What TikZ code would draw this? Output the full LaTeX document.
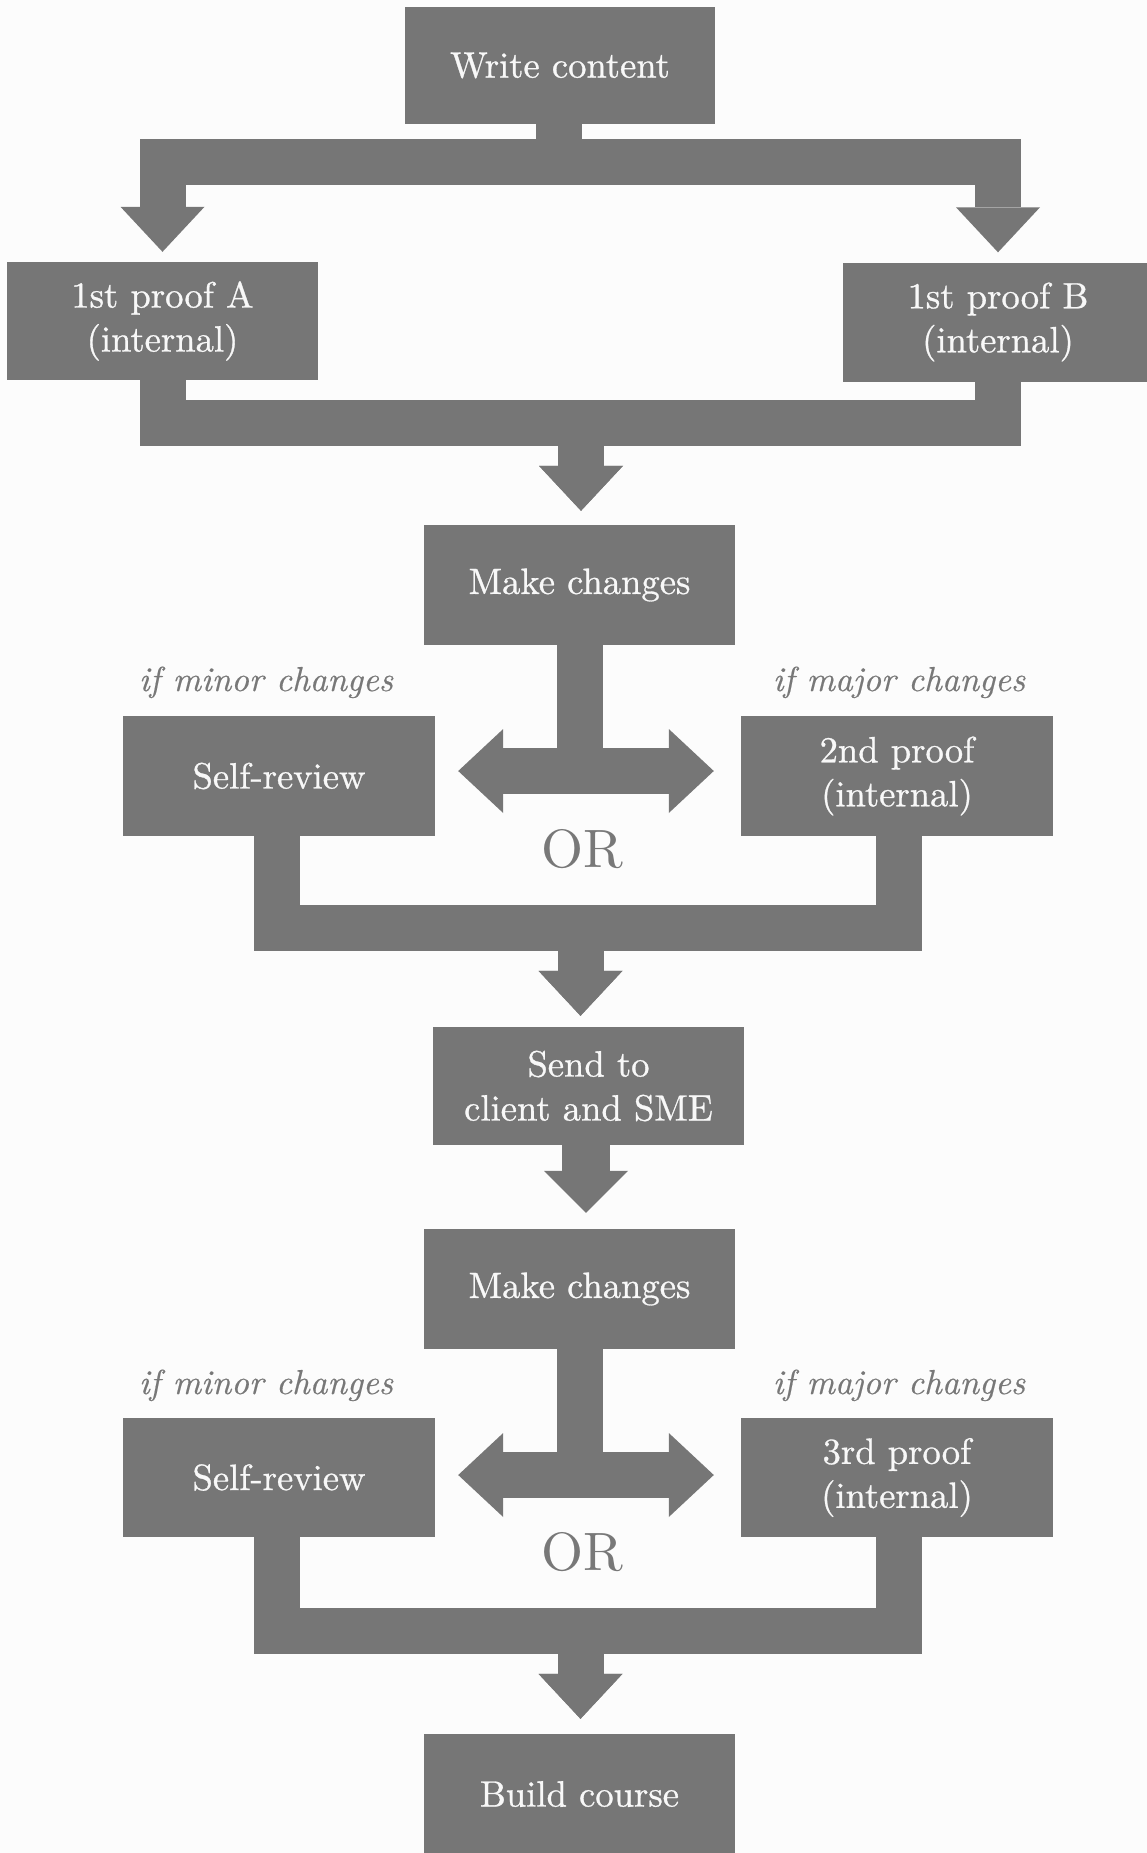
\documentclass[tikz,border=0pt]{standalone}
\usepackage{fontspec}
\usetikzlibrary{arrows.meta}
\newfontfamily\boxfont{lmroman10-regular.otf}[FakeBold=0.8]
\newfontfamily\orfont{lmroman10-regular.otf}
\newfontfamily\condfont{lmroman10-italic.otf}[FakeBold=0.4]
\definecolor{boxgray}{RGB}{118,118,118}
\definecolor{labgray}{RGB}{120,120,120}
\definecolor{bgc}{RGB}{252,252,252}
\definecolor{txt}{RGB}{248,248,248}
\tikzset{
  box/.style={rectangle, fill=boxgray, text=txt, inner sep=0pt,
    minimum width=311pt, minimum height=119pt, align=center,
    font=\boxfont\fontsize{36.6}{44}\selectfont},
  cond/.style={anchor=base, text=labgray, inner sep=0pt,
    font=\condfont\fontsize{34.7}{42}\selectfont},
  ortext/.style={anchor=base, text=labgray, inner sep=0pt,
    font=\orfont\fontsize{54}{60}\selectfont},
  flow/.style={draw=boxgray, line width=46pt, line join=miter, line cap=butt},
  headtip/.style={-{Triangle[width=84pt,length=45pt,line width=0pt]}},
}
\begin{document}
\begin{tikzpicture}[x=1pt,y=-1pt]
\useasboundingbox (0,0) rectangle (1147,1853);
\fill[bgc] (0,0) rectangle (1147,1853);

% boxes
\node[box, minimum width=310pt, minimum height=117pt] (wc) at (560,65.5) {Write content};
\node[box, minimum height=118pt] (pa) at (162.5,321) {1st proof A\\(internal)};
\node[box] (pb) at (998,322) {1st proof B\\(internal)};
\node[box, minimum height=120pt] (mc1) at (579.5,585) {Make changes};
\node[box, minimum width=312pt, minimum height=120pt] (sr1) at (279,776) {Self-review};
\node[box, minimum width=312pt, minimum height=120pt] (p2) at (897,776) {2nd proof\\(internal)};
\node[box, minimum height=118pt] (sd) at (588.5,1086) {Send to\\client and SME};
\node[box, minimum height=120pt] (mc2) at (579.5,1289) {Make changes};
\node[box, minimum width=312pt] (sr2) at (279,1477.5) {Self-review};
\node[box, minimum width=312pt] (p3) at (897,1477.5) {3rd proof\\(internal)};
\node[box, minimum height=120pt] (bc) at (579.5,1794) {Build course};

% labels
\node[cond] (lmin1) at (266,691) {if minor changes};
\node[cond] (lmaj1) at (899,691) {if major changes};
\node[ortext] (or1) at (582,867) {OR};
\node[cond] (lmin2) at (266,1394) {if minor changes};
\node[cond] (lmaj2) at (899,1394) {if major changes};
\node[ortext] (or2) at (582,1570) {OR};

% junctions
\coordinate (j0) at (559,162);
\coordinate (j1) at (581,423);
\coordinate (j2) at (580,771);
\coordinate (j3) at (580.5,928);
\coordinate (j4) at (580,1475);
\coordinate (j5) at (580.5,1630.5);

% top split
\draw[flow,headtip,shorten >=10pt] ([xshift=-1pt]wc.south) |- (pa.north |- j0) -- (pa.north);
\draw[flow,headtip,shorten >=10pt] ([xshift=-1pt]wc.south) |- (pb.north |- j0) -- (pb.north);
% merge 1
\draw[flow,headtip,shorten >=14pt] (pa.south) |- (j1) -- (j1 |- mc1.north);
\draw[flow,headtip,shorten >=14pt] (pb.south) |- (j1) -- (j1 |- mc1.north);
% choice 1
\draw[flow] (mc1.south -| j2) -- (j2);
\draw[flow,headtip,shorten >=23pt] (j2) -- (j2 -| sr1.east);
\draw[flow,headtip,shorten >=27pt] (j2) -- (j2 -| p2.west);
% merge 2
\draw[flow,headtip,shorten >=11pt] ([xshift=-2pt]sr1.south) |- (j3) -- (j3 |- sd.north);
\draw[flow,headtip,shorten >=11pt] ([xshift=2pt]p2.south) |- (j3) -- (j3 |- sd.north);
% send -> make changes
\draw[flow,line width=48pt,-{Triangle[width=84pt,length=42pt,line width=0pt]},shorten >=16pt]
  ([xshift=-2.5pt]sd.south) -- ([xshift=-2.5pt]sd.south |- mc2.north);
% choice 2
\draw[flow] (mc2.south -| j4) -- (j4);
\draw[flow,headtip,shorten >=23pt] (j4) -- (j4 -| sr2.east);
\draw[flow,headtip,shorten >=27pt] (j4) -- (j4 -| p3.west);
% merge 3
\draw[flow,headtip,shorten >=15pt] ([xshift=-2pt]sr2.south) |- (j5) -- (j5 |- bc.north);
\draw[flow,headtip,shorten >=15pt] ([xshift=2pt]p3.south) |- (j5) -- (j5 |- bc.north);
\end{tikzpicture}
\end{document}
